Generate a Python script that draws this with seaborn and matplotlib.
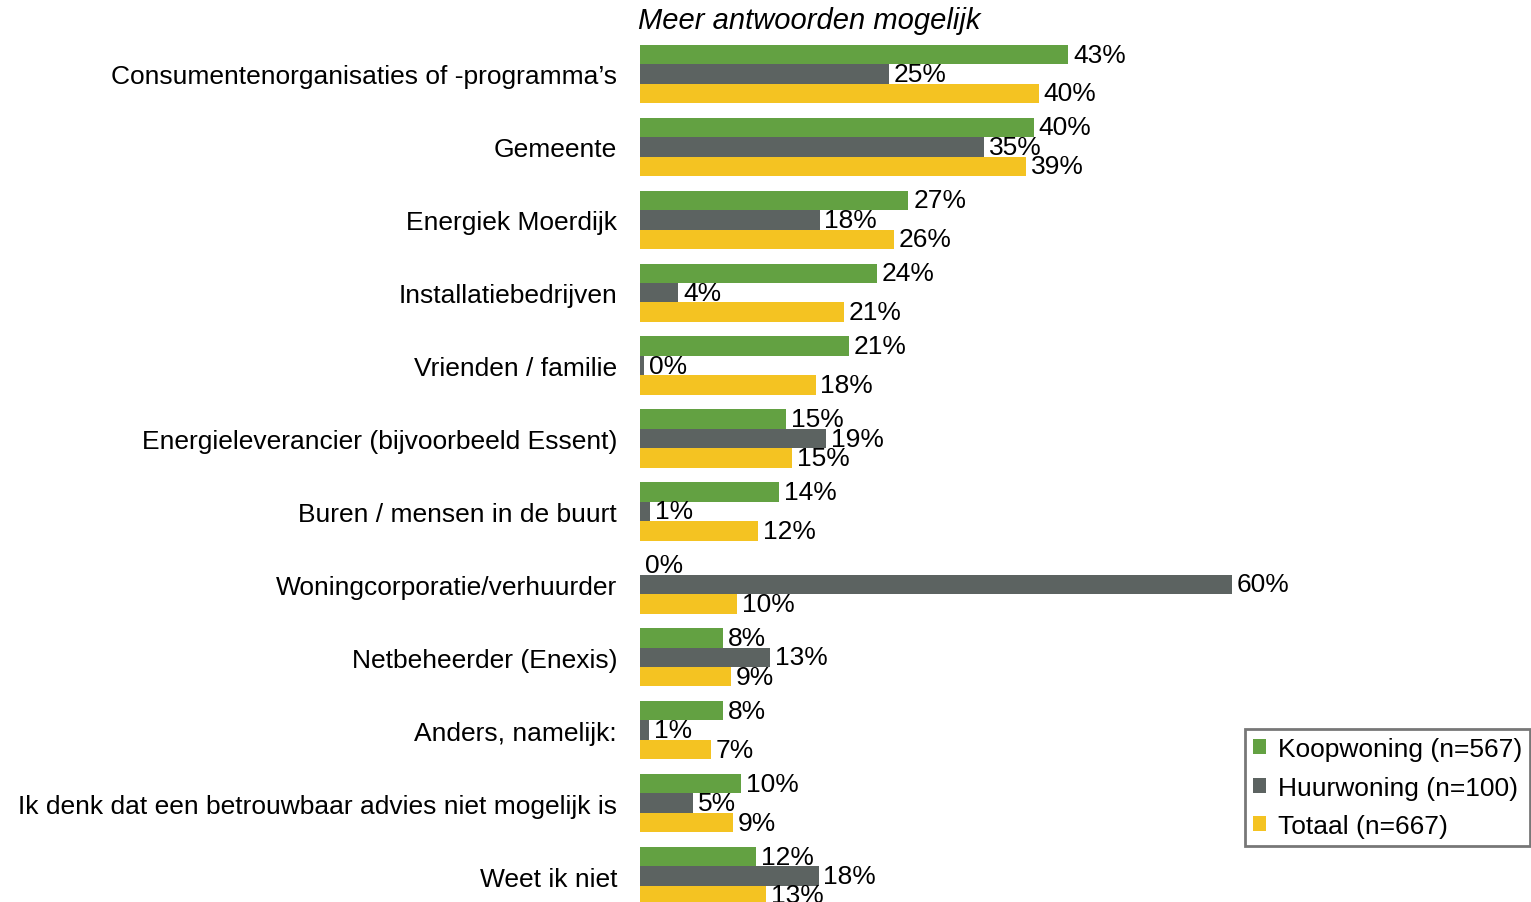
import pandas as pd
import matplotlib.pyplot as plt
import seaborn as sns

# data
categories = [
    "Consumentenorganisaties of -programma’s",
    "Gemeente",
    "Energiek Moerdijk",
    "Installatiebedrijven",
    "Vrienden / familie",
    "Energieleverancier (bijvoorbeeld Essent)",
    "Buren / mensen in de buurt",
    "Woningcorporatie/verhuurder",
    "Netbeheerder (Enexis)",
    "Anders, namelijk:",
    "Ik denk dat een betrouwbaar advies niet mogelijk is",
    "Weet ik niet",
]
series = ["Koopwoning (n=567)", "Huurwoning (n=100)", "Totaal (n=667)"]
koop = [43.4, 39.9, 27.2, 24.0, 21.2, 14.8, 14.1, 0.0, 8.4, 8.4, 10.2, 11.8]
huur = [25.2, 34.9, 18.2, 3.9, 0.4, 18.9, 1.0, 60.0, 13.2, 0.9, 5.4, 18.1]
totaal = [40.4, 39.1, 25.7, 20.7, 17.8, 15.4, 12.0, 9.8, 9.2, 7.2, 9.4, 12.8]
colors = ["#63a142", "#5c6361", "#f4c322"]

df = pd.DataFrame({"cat": categories * 3,
                   "serie": [s for s in series for _ in categories],
                   "pct": koop + huur + totaal})

sns.set_theme(style="white")
plt.rcParams["font.family"] = ["Liberation Sans", "DejaVu Sans"]
plt.rcParams["text.color"] = "black"

fig = plt.figure(figsize=(15.31, 9.03), dpi=100)
ax = fig.add_axes([640 / 1531, 1 - 913.5 / 903, 891 / 1531, 875 / 903])

sns.barplot(data=df, y="cat", x="pct", hue="serie", order=categories,
            hue_order=series, palette=colors, orient="h", width=0.8,
            saturation=1, linewidth=0, ax=ax)

for cont in ax.containers:
    ax.bar_label(cont, fmt="%.0f%%", padding=3.5, fontsize=19, color="black")

ax.set_xlim(0, 90.3)
ax.set_ylim(11.5, -0.5)
ax.set_xlabel("")
ax.set_ylabel("")
ax.set_xticks([])
ax.tick_params(axis="y", length=0, pad=16.5, labelsize=19, labelcolor="black")
sns.despine(ax=ax, left=True, bottom=True)

fig.text(638 / 1531, 1 - 21 / 903, "Meer antwoorden mogelijk", fontsize=21,
         fontstyle="italic", ha="left", va="center", color="black")

leg = ax.legend(loc="lower right", bbox_to_anchor=(1530 / 1531, 1 - 847 / 903),
                bbox_transform=fig.transFigure, borderaxespad=0, fontsize=19,
                frameon=True, fancybox=False, handlelength=0.5, handleheight=0.5,
                handletextpad=0.45, borderpad=0.3, labelspacing=0.55)
leg.get_frame().set_edgecolor("#555555")
leg.get_frame().set_linewidth(2)

fig.savefig("out.png", dpi=100)
